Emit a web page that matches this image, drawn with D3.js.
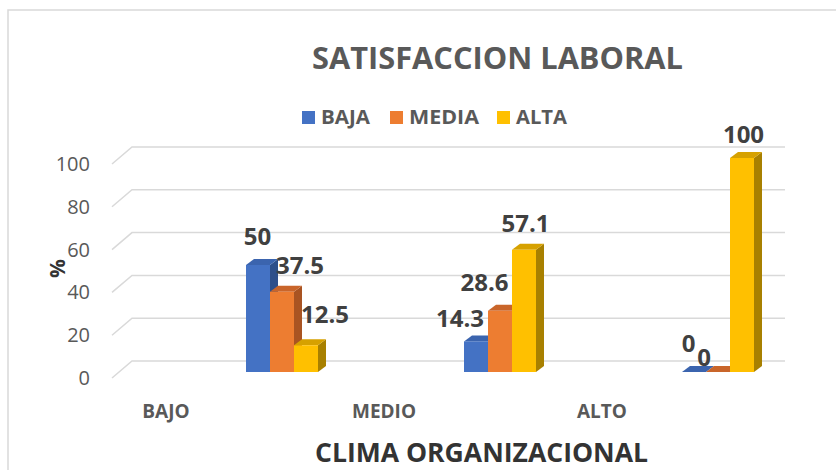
<!DOCTYPE html>
<html>
<head>
<meta charset="utf-8">
<script src="https://d3js.org/d3.v7.min.js"></script>
<style>
  body { margin: 0; background: #fff; }
  text { font-family: "Open Sans", "DejaVu Sans", sans-serif; }
</style>
</head>
<body>
<script>

// data
var categories = ["BAJO", "MEDIO", "ALTO"];
var series = ["BAJA", "MEDIA", "ALTA"];
var bajaValues = [50, 14.3, 0];
var mediaValues = [37.5, 28.6, 0];
var altaValues = [12.5, 57.1, 100];
var yTicks = [0, 20, 40, 60, 80, 100];

var values = [bajaValues, mediaValues, altaValues];

// colours: front, top, side
var colors = [
  {front: "#4472C4", top: "#3B64AE", side: "#2E4F8A"},
  {front: "#ED7D31", top: "#C9652A", side: "#A95422"},
  {front: "#FFC000", top: "#D6A100", side: "#A88000"}
];

// label nudges (dx from bar center, gap above bar top) as Excel placed them
var labelNudge = [
  [[-0.5, 20], [-16, 14], [-5.5, 20]],
  [[18, 18], [-15.5, 20], [-14, 6]],
  [[19, 22], [1.5, 18], [1.5, 15]]
];

var width = 836, height = 470,
    depthX = 8, depthY = 6;

var svg = d3.select("body").append("svg")
    .attr("width", width)
    .attr("height", height);

// chart border
svg.append("rect")
   .attr("x", 8).attr("y", 10)
   .attr("width", 840).attr("height", 470)
   .attr("fill", "white")
   .attr("stroke", "#D9D9D9")
   .attr("stroke-width", 1.5);

var x = d3.scaleBand().domain(categories).range([57, 711]);
var xSub = d3.scaleBand().domain(series).range([0, 72]);
var y = d3.scaleLinear().domain([0, 100]).range([372, 158]);
var yBack = d3.scaleLinear().domain([0, 100]).range([361, 147]);

// gridlines with the 3D wall step
var grid = svg.append("g");
yTicks.forEach(function(t) {
  grid.append("polyline")
      .attr("points", [[112, yBack(t) + 17], [132, yBack(t)], [785, yBack(t)]].join(" "))
      .attr("fill", "none")
      .attr("stroke", "#D9D9D9")
      .attr("stroke-width", 1.5);
  grid.append("text")
      .attr("x", 90)
      .attr("y", yBack(t) + 17)
      .attr("dy", "0.35em")
      .attr("text-anchor", "end")
      .attr("font-size", 20)
      .attr("fill", "#595959")
      .text(t);
});

// bars
var bars = svg.append("g");
categories.forEach(function(c, ci) {
  series.forEach(function(s, si) {
    var v = values[si][ci];
    var x0 = x(c) + x.bandwidth() / 2 + 80 + xSub(s),
        x1 = x0 + xSub.bandwidth(),
        y0 = y(0),
        y1 = y(v);
    var col = colors[si];
    bars.append("polygon")
        .attr("points", [[x1, y1], [x1 + depthX, y1 - depthY], [x1 + depthX, y0 - depthY], [x1, y0]].join(" "))
        .attr("fill", col.side);
    bars.append("polygon")
        .attr("points", [[x0, y1], [x0 + depthX, y1 - depthY], [x1 + depthX, y1 - depthY], [x1, y1]].join(" "))
        .attr("fill", col.top);
    bars.append("rect")
        .attr("x", x0).attr("y", y1)
        .attr("width", x1 - x0)
        .attr("height", y0 - y1)
        .attr("fill", col.front);
  });
});

// data labels
categories.forEach(function(c, ci) {
  series.forEach(function(s, si) {
    var v = values[si][ci];
    var cx = x(c) + x.bandwidth() / 2 + 80 + xSub(s) + xSub.bandwidth() / 2;
    svg.append("text")
       .attr("x", cx + labelNudge[si][ci][0])
       .attr("y", y(v) - labelNudge[si][ci][1])
       .attr("text-anchor", "middle")
       .attr("font-size", 24)
       .attr("font-weight", "bold")
       .attr("fill", "#404040")
       .text(v);
  });
});

// category labels
svg.selectAll(".cat")
   .data(categories)
   .enter().append("text")
   .attr("class", "cat")
   .attr("x", function(d) { return x(d) + x.bandwidth() / 2; })
   .attr("y", 418)
   .attr("text-anchor", "middle")
   .attr("font-size", 19)
   .attr("font-weight", "bold")
   .attr("fill", "#595959")
   .text(function(d) { return d; });

// title
svg.append("text")
   .attr("x", 312).attr("y", 69)
   .attr("textLength", 371)
   .attr("lengthAdjust", "spacingAndGlyphs")
   .attr("font-size", 31)
   .attr("font-weight", "bold")
   .attr("fill", "#595959")
   .text("SATISFACCION LABORAL");

// legend
var legendX = [302, 390, 497],
    legendW = [49, 70, 51];
series.forEach(function(s, i) {
  svg.append("rect")
     .attr("x", legendX[i]).attr("y", 111)
     .attr("width", 13).attr("height", 13)
     .attr("fill", colors[i].front);
  svg.append("text")
     .attr("x", legendX[i] + 19).attr("y", 124)
     .attr("textLength", legendW[i])
     .attr("lengthAdjust", "spacingAndGlyphs")
     .attr("font-size", 19)
     .attr("font-weight", "bold")
     .attr("fill", "#595959")
     .text(s);
});

// axis titles
svg.append("text")
   .attr("x", 315).attr("y", 462)
   .attr("textLength", 333)
   .attr("lengthAdjust", "spacingAndGlyphs")
   .attr("font-size", 26)
   .attr("font-weight", "bold")
   .attr("fill", "#333")
   .text("CLIMA ORGANIZACIONAL");

svg.append("text")
   .attr("transform", "translate(65,268.5) rotate(-90)")
   .attr("text-anchor", "middle")
   .attr("font-size", 21)
   .attr("font-weight", "bold")
   .attr("fill", "#333")
   .text("%");

</script>
</body>
</html>
